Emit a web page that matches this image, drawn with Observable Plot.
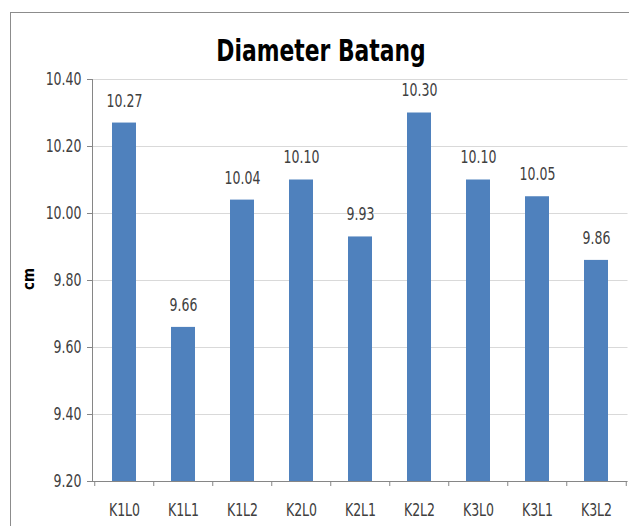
<!DOCTYPE html>
<html><head><meta charset="utf-8">
<script src="https://cdn.jsdelivr.net/npm/d3@7"></script>
<script src="https://cdn.jsdelivr.net/npm/@observablehq/plot@0.6"></script>
<style>
body{margin:0;background:#fff;}
#wrap{position:relative;width:629px;height:526px;overflow:hidden;background:#fff;}
#frame{position:absolute;left:10px;top:12px;width:700px;height:600px;border:1.5px solid #8c8c8c;}
#title{position:absolute;left:0;width:642px;top:36px;text-align:center;font-family:"Liberation Sans Narrow","DejaVu Sans Condensed",sans-serif;font-weight:bold;font-size:30px;line-height:30px;color:#000;transform:scaleX(0.81);}
#ylab{position:absolute;left:29px;top:279px;transform:translate(-50%,-50%) rotate(-90deg);font-family:"Liberation Sans Narrow","DejaVu Sans Condensed",sans-serif;font-weight:bold;font-size:15px;color:#000;}
#chart{position:absolute;left:0;top:0;}
</style></head>
<body>
<div id="wrap">
  <div id="frame"></div>
  <div id="chart"></div>
  <div id="title">Diameter Batang</div>
  <div id="ylab">cm</div>
</div>
<script>
const categories = ["K1L0","K1L1","K1L2","K2L0","K2L1","K2L2","K3L0","K3L1","K3L2"];
const values = [10.27, 9.66, 10.04, 10.10, 9.93, 10.30, 10.10, 10.05, 9.86];
const yTicks = [9.2, 9.4, 9.6, 9.8, 10.0, 10.2, 10.4];
const yMin = 9.2, yMax = 10.4;

const data = categories.map((c, i) => ({c, v: values[i]}));
const W = 629, H = 526, mL = 92, mR = 1.5, mT = 79, mB = 45;
const step = (W - mL - mR) / categories.length;
const font = '"Liberation Sans Narrow","DejaVu Sans Condensed",sans-serif';
const axisColor = "#868686";
const textColor = "#404040";
const squeeze = 0.82;

const chart = Plot.plot({
  width: W, height: H,
  marginLeft: mL, marginRight: mR, marginTop: mT, marginBottom: mB,
  style: {fontFamily: font, fontSize: "17px", color: textColor, background: "transparent"},
  x: {domain: categories, paddingInner: 0.6, paddingOuter: 0.3, label: null},
  y: {domain: [yMin, yMax], label: null},
  marks: [
    Plot.gridY(yTicks, {stroke: "#d9d9d9", strokeOpacity: 1}),
    Plot.barY(data, {x: "c", y1: yMin, y2: "v", fill: "#4F81BD"}),
    Plot.ruleY([yMin], {stroke: axisColor}),
    Plot.frame({anchor: "left", stroke: axisColor}),
    Plot.axisY(yTicks, {tickSize: 5, tickPadding: 6, stroke: axisColor, fill: textColor, tickFormat: d => d.toFixed(2), label: null}),
    Plot.axisX({tickSize: 0, tickPadding: 22, fill: textColor, label: null}),
    Plot.ruleX(categories, {x: d => d, dx: -step / 2, y1: yMin, y2: yMin, insetBottom: -5, stroke: axisColor}),
    Plot.ruleX([categories[categories.length - 1]], {x: d => d, dx: step / 2, y1: yMin, y2: yMin, insetBottom: -5, stroke: axisColor}),
    Plot.text(data, {x: "c", y: "v", text: d => d.v.toFixed(2), dy: -22, fill: textColor, fontSize: 17})
  ]
});
// narrow the text horizontally about its anchor (condensed look of the original)
chart.querySelectorAll("text").forEach(t => {
  const x = +t.getAttribute("x") || 0;
  const tr = t.getAttribute("transform") || "";
  t.setAttribute("transform", `${tr} translate(${x},0) scale(${squeeze},1) translate(${-x},0)`);
});
document.getElementById("chart").appendChild(chart);
</script>
</body></html>
